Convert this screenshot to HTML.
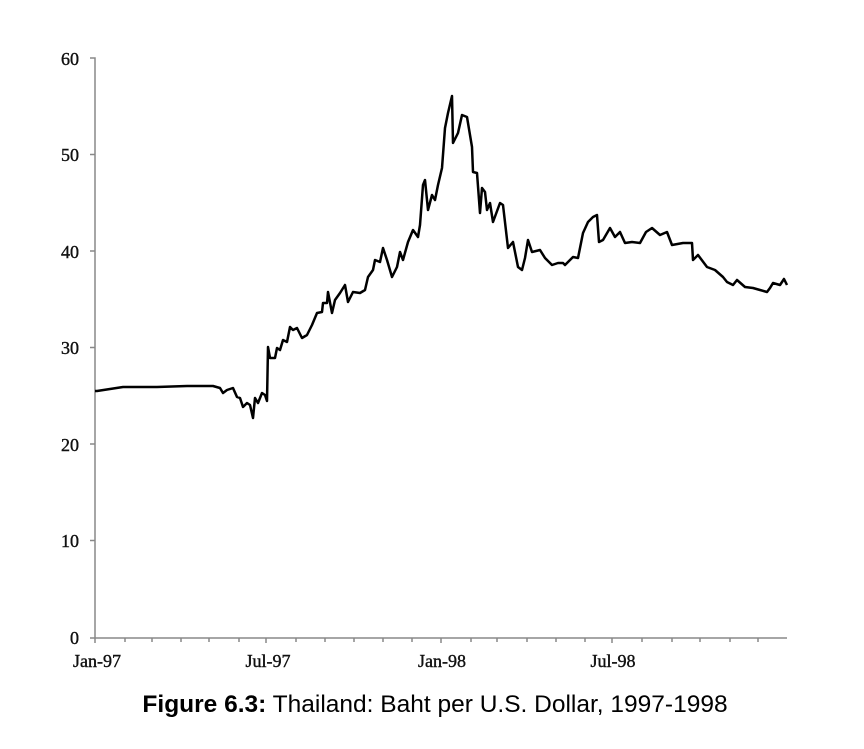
<!DOCTYPE html>
<html><head><meta charset="utf-8"><style>
body{margin:0;background:#fff;width:864px;height:744px;overflow:hidden}
</style></head><body>
<svg width="864" height="744" xmlns="http://www.w3.org/2000/svg">
<g font-family="Liberation Serif, serif" font-size="18" fill="#111" stroke="#111" stroke-width="0.4" text-anchor="end">
<text x="79" y="65">60</text><text x="79" y="161">50</text><text x="79" y="258">40</text>
<text x="79" y="354">30</text><text x="79" y="451">20</text><text x="79" y="547">10</text>
<text x="79" y="644">0</text>
</g>
<g stroke="#888" stroke-width="1.5" fill="none">
<path d="M90,58H95V638"/>
<path d="M90,154.5H95M90,251H95M90,347.5H95M90,444H95M90,540.5H95"/>
<path d="M90,638H787"/>
<path d="M95,638v5M125,638v4M152,638v4M181,638v4M209,638v4M239,638v4M266,638v5M296,638v4M325,638v4M354,638v4M383,638v4M412,638v4M441,638v5M471,638v4M497,638v4M527,638v4M556,638v4M585,638v4M612,638v5M642,638v4M672,638v4M700,638v4M730,638v4M758,638v4"/>
</g>
<g font-family="Liberation Serif, serif" font-size="18" fill="#111" stroke="#111" stroke-width="0.4" text-anchor="middle">
<text x="97" y="667">Jan-97</text><text x="268" y="667">Jul-97</text>
<text x="442" y="667">Jan-98</text><text x="613" y="667">Jul-98</text>
</g>
<path fill="none" stroke="#000" stroke-width="2.5" stroke-linejoin="round" d="M95,391 L97,391 L123,387 L137,387 L157,387 L187,386 L213,386 L220,388 L223,393 L227,390 L233,388 L237,397 L240,398 L243,407 L247,403 L250,405 L253,418 L255,398 L258,403 L262,393 L265,395 L267,401 L268,347 L270,358 L275,358 L277,348 L280,350 L283,340 L287,342 L290,327 L293,330 L297,328 L302,338 L307,335 L312,325 L317,313 L322,312 L323,303 L327,303 L328,292 L332,313 L335,300 L340,293 L345,285 L348,302 L353,292 L360,293 L365,290 L368,277 L373,270 L375,260 L380,262 L383,248 L387,260 L392,277 L397,267 L400,252 L403,260 L408,242 L413,230 L418,237 L420,225 L423,185 L425,180 L428,210 L432,195 L435,200 L438,185 L442,168 L445,128 L448,113 L452,96 L453,143 L458,133 L462,115 L467,117 L472,147 L473,172 L477,173 L480,213 L482,188 L485,192 L487,210 L490,203 L493,222 L500,203 L503,205 L508,248 L513,242 L518,267 L522,270 L525,258 L528,240 L532,252 L540,250 L545,258 L552,265 L558,263 L563,263 L565,265 L573,257 L578,258 L583,233 L588,222 L593,217 L597,215 L599,242 L603,240 L610,228 L615,237 L620,232 L625,243 L632,242 L640,243 L646,232 L652,228 L660,235 L667,232 L672,245 L683,243 L692,243 L693,260 L698,255 L707,267 L715,270 L723,277 L727,282 L733,285 L737,280 L745,287 L753,288 L760,290 L767,292 L770,288 L773,283 L780,285 L784,279 L787,285"/>
<text x="435" y="712" font-family="Liberation Sans, sans-serif" font-size="24.5" text-anchor="middle" fill="#000"><tspan font-weight="bold">Figure 6.3:</tspan> Thailand: Baht per U.S. Dollar, 1997-1998</text>
</svg>
</body></html>
